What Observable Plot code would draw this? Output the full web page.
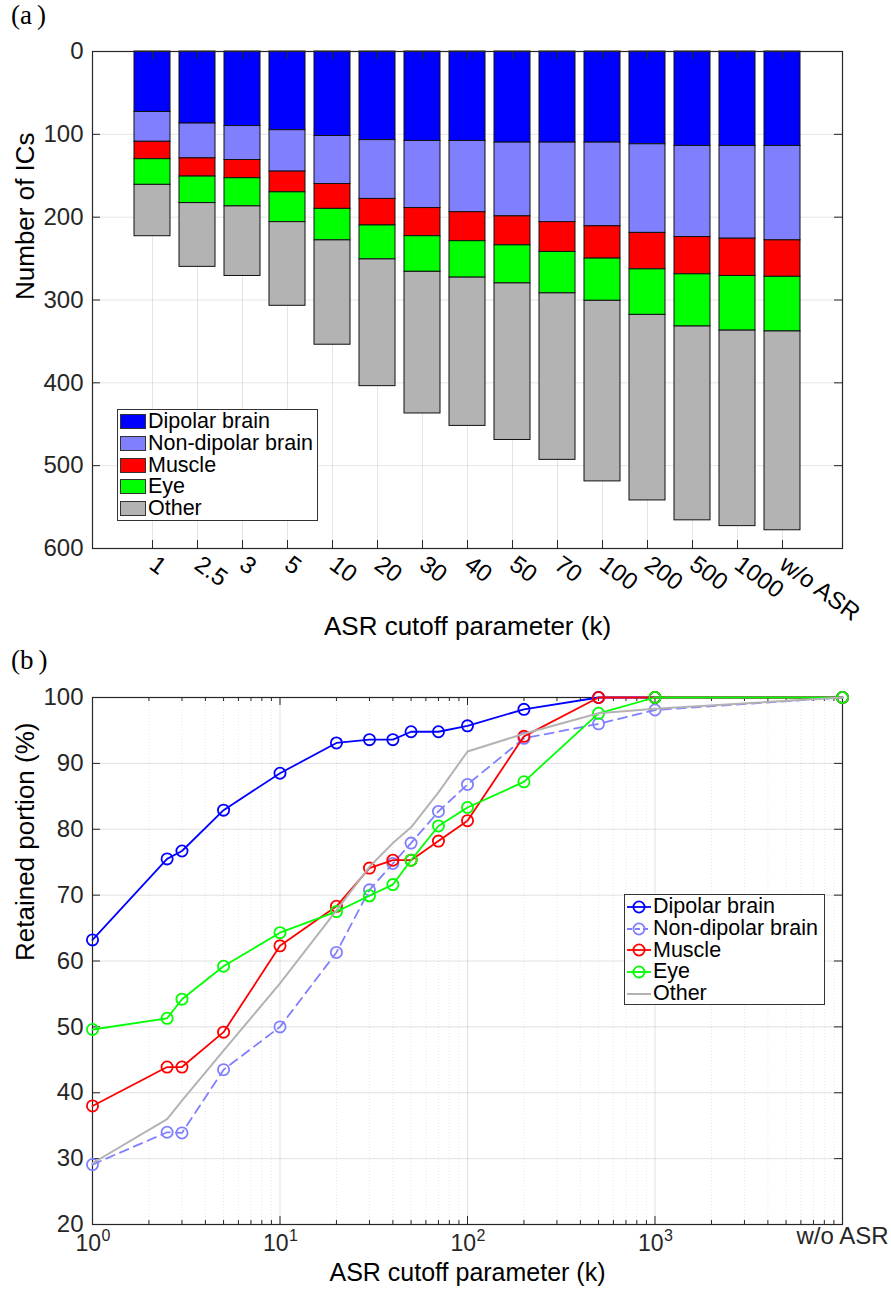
<!DOCTYPE html>
<html>
<head>
<meta charset="utf-8">
<script src="https://cdn.jsdelivr.net/npm/d3@7"></script>
<script src="https://cdn.jsdelivr.net/npm/@observablehq/plot@0.6"></script>
<style>
  body { margin: 0; background: #fff; }
  #wrap { position: relative; width: 891px; height: 1294px; background: #fff; font-family: "Liberation Sans", Arial, sans-serif; overflow: hidden; }
  .chart { position: absolute; left: 0; }
  .panel { position: absolute; left: 11px; font-family: "Liberation Serif", "DejaVu Serif", serif; font-size: 27px; color: #000; }
  .panel span { margin-left: 5px; }
  .legend { position: absolute; border: 1px solid #333; background: #fff; box-sizing: border-box; padding-top: 1px; }
  .row { display: flex; align-items: center; height: 21.7px; font-size: 21.5px; color: #000; white-space: nowrap; }
  .sw { width: 24px; height: 13px; border: 1px solid #333; margin: 0 2px 0 2px; }
</style>
</head>
<body>
<div id="wrap">
  <div class="panel" style="top:0px">(a<span>)</span></div>
  <div class="panel" style="top:645px">(b<span>)</span></div>
  <div id="top" class="chart" style="top:0"></div>
  <div id="bot" class="chart" style="top:645px"></div>
  <div id="legA" class="legend" style="left:117px;top:409px;width:201px;height:112px"></div>
  <div id="legB" class="legend" style="left:624px;top:894px;width:201px;height:111px"></div>
</div>
<script>
// ---------- data ----------
const cutoffLabels = ["1","2.5","3","5","10","20","30","40","50","70","100","200","500","1000","w/o ASR"];
const seriesNames = ["Dipolar brain","Non-dipolar brain","Muscle","Eye","Other"];
const seriesColors = ["#0000ff","#8080ff","#ff0000","#00ff00","#b3b3b3"];

// panel (a): number of ICs per class
const dipolarCount    = [73, 87, 90, 95, 102, 107, 108, 108, 110, 110, 110, 112, 114, 114, 114];
const nondipolarCount = [36, 42, 41, 50, 58, 71, 81, 86, 89, 96, 101, 107, 110, 112, 114];
const muscleCount     = [21, 22, 22, 25, 30, 32, 34, 35, 35, 36, 39, 44, 45, 45, 44];
const eyeCount        = [31, 32, 34, 36, 38, 41, 43, 44, 46, 50, 51, 55, 63, 66, 66];
const otherCount      = [62, 77, 84, 101, 126, 153, 171, 179, 189, 201, 218, 224, 234, 236, 240];
const countTicks = [0, 100, 200, 300, 400, 500, 600];

// panel (b): retained portion (%)
const kPos = [1, 2.5, 3, 5, 10, 20, 30, 40, 50, 70, 100, 200, 500, 1000, 10000]; // w/o ASR drawn at 10^4
const dipolarPct    = [63.2, 75.5, 76.7, 82.9, 88.5, 93.1, 93.6, 93.6, 94.8, 94.8, 95.7, 98.2, 100, 100, 100];
const nondipolarPct = [29.1, 34.0, 33.9, 43.5, 50.0, 61.3, 70.8, 74.8, 77.9, 82.7, 86.8, 93.8, 96.0, 98.1, 100];
const musclePct     = [38.0, 43.9, 43.9, 49.2, 62.3, 68.3, 74.1, 75.3, 75.3, 78.2, 81.3, 94.1, 100, 100, 100];
const eyePct        = [49.6, 51.3, 54.2, 59.2, 64.3, 67.5, 69.9, 71.6, 75.3, 80.5, 83.3, 87.2, 97.6, 100, 100];
const otherPct      = [29.3, 36.0, 38.8, 46.4, 56.6, 67.7, 74.3, 77.9, 80.3, 85.6, 91.8, 94.5, 97.6, 98.3, 100];
const pctTicks = [20, 30, 40, 50, 60, 70, 80, 90, 100];
const decadeTicks = [1, 10, 100, 1000];
const decadeExp = ["0", "1", "2", "3"];
const woLabel = "w/o ASR";
const xLabel = "ASR cutoff parameter (k)";

// ---------- helpers ----------
const counts = [dipolarCount, nondipolarCount, muscleCount, eyeCount, otherCount];
const pcts = [dipolarPct, nondipolarPct, musclePct, eyePct, otherPct];
const rows = [];
cutoffLabels.forEach((c, j) => seriesNames.forEach((s, i) => rows.push({cutoff: c, type: s, count: counts[i][j]})));
const minorTicks = [];
for (const d of [1, 10, 100, 1000]) for (let m = 2; m <= 9; m++) minorTicks.push(d * m);

const W = 891, ML = 92, MR = 49;
const innerW = W - ML - MR;
const axisColor = "#262626";
const font = "Liberation Sans, Arial, Helvetica, sans-serif";

// ---------- panel (a) ----------
const topH = 645, topMT = 51, topMB = 97;
const topInnerH = topH - topMT - topMB;
const topPlot = Plot.plot({
  width: W, height: topH,
  marginLeft: ML, marginRight: MR, marginTop: topMT, marginBottom: topMB,
  style: {fontFamily: font, fontSize: "24px", background: "transparent", color: axisColor},
  x: {type: "band", domain: cutoffLabels, paddingInner: 0.2, paddingOuter: 0.8, label: null},
  y: {domain: [0, 600], reverse: true, label: null},
  color: {domain: seriesNames, range: seriesColors},
  marks: [
    Plot.gridX({stroke: "#000", strokeOpacity: 0.1}),
    Plot.gridY({ticks: countTicks, stroke: "#000", strokeOpacity: 0.1}),
    Plot.barY(rows, {x: "cutoff", y: "count", fill: "type", order: seriesNames, stroke: "#111", strokeWidth: 1}),
    Plot.frame({stroke: axisColor, strokeWidth: 1.2}),
    Plot.tickX(cutoffLabels, {x: d => d, stroke: axisColor, insetBottom: topInnerH - 8}),
    Plot.tickX(cutoffLabels, {x: d => d, stroke: axisColor, insetTop: topInnerH - 8}),
    Plot.tickY(countTicks, {y: d => d, stroke: axisColor, insetRight: innerW - 8}),
    Plot.tickY(countTicks, {y: d => d, stroke: axisColor, insetLeft: innerW - 8}),
    Plot.axisY({ticks: countTicks, tickSize: 0, tickPadding: 9, fontSize: 24, label: null, fill: axisColor}),
    Plot.axisX({tickSize: 0, tickRotate: 36, tickPadding: 13, fontSize: 24, label: null, fill: "#000"}),
    Plot.text([xLabel], {text: d => d, frameAnchor: "bottom", dy: 86, fontSize: 26, fill: "#000"}),
    Plot.text(["Number of ICs"], {text: d => d, frameAnchor: "left", dx: -67, rotate: -90, fontSize: 26, fill: "#000"})
  ]
});
document.getElementById("top").appendChild(topPlot);

// ---------- panel (b) ----------
const botH = 649, botMT = 52, botMB = 70;
const botInnerH = botH - botMT - botMB;
const lineMarks = [];
pcts.forEach((vals, i) => {
  lineMarks.push(Plot.line(kPos, {x: d => d, y: vals, stroke: seriesColors[i], strokeWidth: i === 4 ? 2 : 1.8,
    strokeDasharray: i === 1 ? "9,6" : null}));
  if (i < 4) lineMarks.push(Plot.dot(kPos, {x: d => d, y: vals, r: 5.6, stroke: seriesColors[i], strokeWidth: 1.8, fill: "none"}));
});
const botPlot = Plot.plot({
  width: W, height: botH,
  marginLeft: ML, marginRight: MR, marginTop: botMT, marginBottom: botMB,
  style: {fontFamily: font, fontSize: "24px", background: "transparent", color: axisColor},
  x: {type: "log", domain: [1, 10000], axis: null, label: null},
  y: {domain: [20, 100], label: null},
  marks: [
    Plot.gridX({ticks: minorTicks, stroke: "#000", strokeOpacity: 0.09, strokeDasharray: "1,2"}),
    Plot.gridX({ticks: decadeTicks, stroke: "#000", strokeOpacity: 0.12}),
    Plot.gridY({ticks: pctTicks, stroke: "#000", strokeOpacity: 0.12}),
    Plot.frame({stroke: axisColor, strokeWidth: 1.2}),
    Plot.tickX(decadeTicks, {x: d => d, stroke: axisColor, insetBottom: botInnerH - 8}),
    Plot.tickX(decadeTicks, {x: d => d, stroke: axisColor, insetTop: botInnerH - 8}),
    Plot.tickX(minorTicks, {x: d => d, stroke: axisColor, insetBottom: botInnerH - 4}),
    Plot.tickX(minorTicks, {x: d => d, stroke: axisColor, insetTop: botInnerH - 4}),
    Plot.tickY(pctTicks, {y: d => d, stroke: axisColor, insetRight: innerW - 8}),
    Plot.tickY(pctTicks, {y: d => d, stroke: axisColor, insetLeft: innerW - 8}),
    ...lineMarks,
    Plot.axisY({ticks: pctTicks, tickSize: 0, tickPadding: 9, fontSize: 24, label: null, fill: axisColor}),
    Plot.text(decadeTicks, {x: d => d, text: () => "10", frameAnchor: "bottom", dy: 26, dx: 8.5, textAnchor: "end", fontSize: 23, fill: axisColor}),
    Plot.text(decadeTicks, {x: d => d, text: (d, i) => decadeExp[i], frameAnchor: "bottom", dy: 16, dx: 9, textAnchor: "start", fontSize: 16, fill: axisColor}),
    Plot.text([kPos[kPos.length - 1]], {x: d => d, text: () => woLabel, frameAnchor: "bottom", dy: 19, fontSize: 24, fill: axisColor}),
    Plot.text([xLabel], {text: d => d, frameAnchor: "bottom", dy: 56, fontSize: 25, fill: "#000"}),
    Plot.text(["Retained portion (%)"], {text: d => d, frameAnchor: "left", dx: -67, rotate: -90, fontSize: 26, fill: "#000"})
  ]
});
document.getElementById("bot").appendChild(botPlot);

// ---------- legends ----------
const legA = document.getElementById("legA");
seriesNames.forEach((s, i) => {
  const r = document.createElement("div"); r.className = "row";
  const sw = document.createElement("div"); sw.className = "sw"; sw.style.background = seriesColors[i];
  const t = document.createElement("span"); t.textContent = s;
  r.appendChild(sw); r.appendChild(t); legA.appendChild(r);
});
const legB = document.getElementById("legB");
seriesNames.forEach((s, i) => {
  const r = document.createElement("div"); r.className = "row";
  const ns = "http://www.w3.org/2000/svg";
  const svg = document.createElementNS(ns, "svg");
  svg.setAttribute("width", 28); svg.setAttribute("height", 20);
  svg.style.flex = "none";
  const ln = document.createElementNS(ns, "line");
  ln.setAttribute("x1", 2); ln.setAttribute("x2", 26); ln.setAttribute("y1", 10); ln.setAttribute("y2", 10);
  ln.setAttribute("stroke", seriesColors[i]); ln.setAttribute("stroke-width", i === 4 ? 2 : 1.8);
  if (i === 1) ln.setAttribute("stroke-dasharray", "5,3");
  svg.appendChild(ln);
  if (i < 4) {
    const c = document.createElementNS(ns, "circle");
    c.setAttribute("cx", 14); c.setAttribute("cy", 10); c.setAttribute("r", 5.6);
    c.setAttribute("fill", "none"); c.setAttribute("stroke", seriesColors[i]); c.setAttribute("stroke-width", 1.8);
    svg.appendChild(c);
  }
  const t = document.createElement("span"); t.textContent = s;
  r.appendChild(svg); r.appendChild(t); legB.appendChild(r);
});
</script>
</body>
</html>
